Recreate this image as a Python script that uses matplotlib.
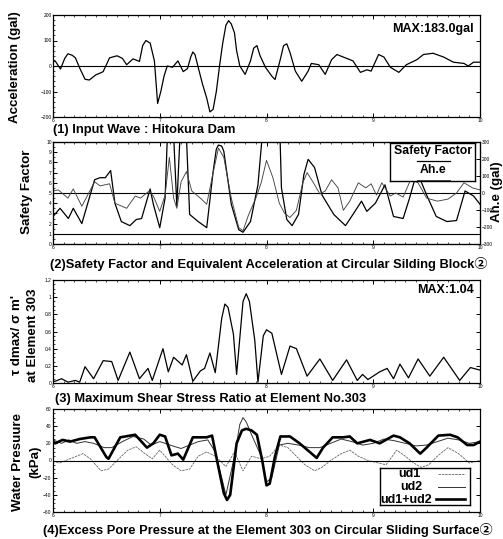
import matplotlib
matplotlib.use("Agg")
import matplotlib.pyplot as plt
from matplotlib.ticker import MultipleLocator
from matplotlib.lines import Line2D

plt.rcParams["font.family"] = ["Liberation Sans", "Noto Sans CJK JP", "DejaVu Sans"]

# (1) input wave, gal
acc_t = [6.00, 6.02, 6.07, 6.11, 6.14, 6.18, 6.21, 6.25, 6.30, 6.34, 6.40, 6.44, 6.47, 6.53,
         6.60, 6.65, 6.69, 6.75, 6.81, 6.84, 6.87, 6.91, 6.95, 6.98, 7.01, 7.04, 7.07, 7.12,
         7.17, 7.22, 7.26, 7.29, 7.31, 7.33, 7.36, 7.40, 7.44, 7.47, 7.50, 7.53, 7.56, 7.59,
         7.62, 7.645, 7.67, 7.70, 7.72, 7.75, 7.80, 7.85, 7.88, 7.91, 7.94, 7.99, 8.05,
         8.08, 8.13, 8.16, 8.19, 8.22, 8.27, 8.33, 8.39, 8.42, 8.49, 8.55, 8.61, 8.66,
         8.72, 8.81, 8.88, 8.94, 8.98, 9.05, 9.10, 9.16, 9.24, 9.31, 9.41, 9.47, 9.56, 9.66,
         9.75, 9.85, 9.89, 9.94, 10.00]
acc_v = [22, 20, -12, 30, 48, 42, 32, -8, -52, -55, -35, -28, -22, 32,
         40, 30, 5, 28, 18, 80, 100, 90, 20, -147, -100, -40, 0, -5,
         20, -22, -10, 35, 55, 45, -5, -70, -126, -180, -170, -100, 0, 90,
         160, 178, 165, 130, 60, 0, -33, 20, 70, 80, 40, -5, -40,
         -53, 27, 80, 87, 53, -20, -60, -20, 10, 5, -33, 25, 45,
         35, 20, -25, -15, -20, 45, 35, -5, -25, 5, 25, 45, 50, 35,
         15, 10, 0, 15, 15]

# (2) safety factor and equivalent acceleration
sf_t = [6.00, 6.066, 6.144, 6.19, 6.27, 6.39, 6.44, 6.49, 6.54, 6.58, 6.64, 6.72, 6.78,
        6.83, 6.91, 6.94, 7.00, 7.05, 7.08, 7.12, 7.16, 7.20, 7.24, 7.28, 7.36, 7.44,
        7.50, 7.53, 7.55, 7.58, 7.60, 7.67, 7.74, 7.78, 7.85, 7.92, 7.98, 8.12, 8.14,
        8.19, 8.24, 8.30, 8.35, 8.39, 8.45, 8.52, 8.63, 8.74, 8.81, 8.89, 8.94, 9.02,
        9.11, 9.19, 9.28, 9.34, 9.41, 9.50, 9.59, 9.69, 9.78, 9.86, 9.94, 10.00]
sf_v = [2.7, 3.5, 2.5, 3.5, 2.0, 6.3, 6.5, 6.5, 7.2, 4.0, 2.2, 1.8, 2.4,
        2.5, 5.4, 3.9, 1.6, 4.5, 13, 13, 3.7, 13, 13, 2.9, 2.2, 1.6,
        7.1, 9.3, 9.7, 9.6, 9.1, 3.9, 1.4, 1.15, 2.2, 5.8, 13, 13, 5.5,
        2.4, 1.8, 2.9, 6.8, 8.3, 7.5, 4.8, 2.9, 1.8, 2.9, 4.2, 3.2, 4.0,
        5.8, 2.7, 2.5, 4.5, 7.1, 4.8, 2.7, 2.2, 2.3, 5.2, 4.7, 3.9]

ahe_t = [6.00, 6.05, 6.14, 6.19, 6.27, 6.39, 6.44, 6.53, 6.58, 6.69, 6.77, 6.82, 6.90,
         6.94, 7.00, 7.05, 7.09, 7.13, 7.16, 7.20, 7.25, 7.30, 7.38, 7.44, 7.50, 7.55,
         7.60, 7.67, 7.74, 7.78, 7.83, 7.90, 7.95, 8.00, 8.06, 8.12, 8.17, 8.22, 8.28,
         8.34, 8.38, 8.44, 8.50, 8.55, 8.61, 8.67, 8.72, 8.78, 8.86, 8.93, 8.98, 9.03,
         9.08, 9.16, 9.21, 9.28, 9.35, 9.42, 9.50, 9.60, 9.70, 9.78, 9.85, 9.93, 10.00]
ahe_v = [12, 18, -30, 24, -78, 66, 42, 54, -60, -90, -18, -30, 12,
         -18, -108, -12, 210, -30, -90, 66, 126, 12, -30, -66, 120, 264,
         210, -30, -204, -222, -132, -30, 60, 192, 90, -60, -120, -144, -102,
         60, 120, 60, -6, 12, 78, 30, -102, -48, 60, 30, 54, -12,
         60, -18, 0, -24, 78, 60, -30, -48, -36, 0, 60, 30, 18]

# (3) max shear stress ratio
tau_t = [6.00, 6.02, 6.08, 6.14, 6.21, 6.25, 6.30, 6.38, 6.47, 6.55, 6.61, 6.72, 6.81,
         6.89, 6.93, 7.03, 7.08, 7.13, 7.21, 7.25, 7.31, 7.38, 7.42, 7.47, 7.52, 7.58,
         7.61, 7.64, 7.69, 7.72, 7.78, 7.81, 7.84, 7.89, 7.92, 7.97, 8.00, 8.05, 8.14,
         8.22, 8.28, 8.38, 8.50, 8.62, 8.75, 8.85, 8.90, 8.95, 9.06, 9.13, 9.19, 9.25,
         9.33, 9.42, 9.53, 9.66, 9.81, 9.91, 10.00]
tau_v = [0.02, 0.02, 0.05, 0.01, 0.03, 0.01, 0.19, 0.05, 0.26, 0.25, 0.03, 0.36, 0.05,
         0.17, 0.03, 0.40, 0.13, 0.30, 0.21, 0.33, 0.02, 0.14, 0.17, 0.35, 0.12, 0.75,
         0.92, 0.88, 0.57, 0.10, 0.95, 1.04, 0.95, 0.50, 0.01, 0.55, 0.62, 0.58, 0.10,
         0.43, 0.40, 0.08, 0.28, 0.03, 0.27, 0.03, 0.10, 0.04, 0.13, 0.17, 0.05, 0.22,
         0.06, 0.28, 0.08, 0.30, 0.03, 0.18, 0.15]

# (4) excess pore pressure, kPa
ud1_t = [6.00, 6.06, 6.12, 6.22, 6.28, 6.35, 6.45, 6.52, 6.60, 6.70, 6.78, 6.86, 6.93,
         7.00, 7.05, 7.12, 7.20, 7.28, 7.36, 7.44, 7.52, 7.62, 7.70, 7.78, 7.86, 7.95,
         8.03, 8.12, 8.20, 8.28, 8.36, 8.45, 8.52, 8.60, 8.70, 8.78, 8.86, 8.95, 9.05,
         9.12, 9.22, 9.30, 9.38, 9.45, 9.52, 9.60, 9.70, 9.80, 9.90, 10.00]
ud1_v = [-1, -3, 0, 5, 8, 2, -12, -10, 0, 12, 16, 8, 2,
         12, 5, -5, -12, -10, 5, 10, 5, -7, 10, -12, 5, 2,
         5, 18, 15, 5, -5, -12, -8, 0, 8, 12, 5, 0, -3,
         -5, 12, 5, -3, -8, -5, 5, 15, 8, -3, 0]

ud2_t = [6.00, 6.08, 6.15, 6.22, 6.30, 6.38, 6.48, 6.55, 6.65, 6.75, 6.85, 6.92, 7.00,
         7.05, 7.12, 7.20, 7.28, 7.36, 7.45, 7.52, 7.62, 7.70, 7.75, 7.78, 7.81, 7.86,
         7.95, 8.00, 8.05, 8.12, 8.20, 8.30, 8.40, 8.50, 8.60, 8.70, 8.80, 8.90, 9.00,
         9.10, 9.20, 9.30, 9.40, 9.50, 9.60, 9.70, 9.80, 9.90, 10.00]
ud2_v = [24, 20, 24, 20, 22, 20, 15, 15, 22, 28, 25, 18, 22,
         20, 17, 14, 18, 22, 24, 10, -40, 5, 42, 50, 45, 30,
         5, -25, -20, 18, 20, 18, 15, 15, 20, 25, 22, 18, 20,
         25, 23, 20, 17, 18, 22, 26, 24, 20, 22]

uds_t = [6.00, 6.02, 6.09, 6.16, 6.25, 6.35, 6.39, 6.50, 6.52, 6.63, 6.77, 6.88, 6.94,
         7.00, 7.05, 7.11, 7.17, 7.22, 7.31, 7.44, 7.49, 7.54, 7.60, 7.63, 7.66, 7.72,
         7.77, 7.81, 7.86, 7.91, 7.96, 8.00, 8.03, 8.08, 8.13, 8.22, 8.31, 8.47, 8.53,
         8.62, 8.72, 8.78, 8.85, 8.97, 9.06, 9.19, 9.25, 9.34, 9.44, 9.50, 9.61, 9.72,
         9.79, 9.88, 9.94, 10.00]
uds_v = [22, 20, 24, 22, 25, 27, 27, 4, 2, 27, 30, 15, 20,
         30, 28, 6, 8, 1, 27, 27, 29, -2, -38, -46, -40, 20,
         35, 37, 35, 30, 0, -29, -27, 5, 28, 28, 20, 3, 15,
         27, 27, 28, 20, 24, 20, 29, 27, 20, 8, 15, 29, 30,
         27, 18, 18, 22]

fig = plt.figure(figsize=(5.03, 5.39), dpi=100)
W, H = 503.0, 539.0


def axes_px(x0, y0, x1, y1):
    return fig.add_axes([x0 / W, 1 - y1 / H, (x1 - x0) / W, (y1 - y0) / H])


def style(ax, major, minor):
    ax.set_xlim(6, 10)
    ax.xaxis.set_major_locator(MultipleLocator(1))
    ax.xaxis.set_minor_locator(MultipleLocator(0.1))
    ax.yaxis.set_major_locator(MultipleLocator(major))
    ax.yaxis.set_minor_locator(MultipleLocator(minor))
    ax.tick_params(which="both", direction="in", top=True, labelsize=3.5, pad=1)
    ax.tick_params(which="major", length=3, width=0.7)
    ax.tick_params(which="minor", length=1.5, width=0.5)
    for s in ax.spines.values():
        s.set_linewidth(0.9)


def ttext(x, y, s, **kw):
    fig.text(x / W, 1 - y / H, s, fontweight="bold", **kw)


TSIZE = 9.3
YSIZE = 9.6

# panel 1
ax1 = axes_px(53, 15, 480, 117)
ax1.plot(acc_t, acc_v, color="black", lw=0.9)
ax1.axhline(0, color="black", lw=0.8)
ax1.set_ylim(-200, 200)
style(ax1, 100, 20)
ax1.tick_params(right=True)
ax1.text(0.985, 0.86, "MAX:183.0gal", transform=ax1.transAxes, ha="right", va="center",
         fontsize=9, fontweight="bold")
ttext(53, 130, "(1) Input Wave : Hitokura Dam", fontsize=TSIZE, va="center")
ttext(15, 67, "Acceleration (gal)", fontsize=YSIZE, rotation=90, ha="center", va="center")

# panel 2
ax2 = axes_px(53, 142, 480, 244)
ax2.plot(sf_t, sf_v, color="black", lw=0.9)
ax2.axhline(5, color="black", lw=0.8)
ax2.axhline(1, color="black", lw=0.8)
ax2.set_ylim(0, 10)
style(ax2, 1, 0.5)
ax2b = ax2.twinx()
ax2b.plot(ahe_t, ahe_v, color="#444444", lw=0.65)
ax2b.set_ylim(-300, 300)
ax2b.yaxis.set_major_locator(MultipleLocator(100))
ax2b.tick_params(direction="in", labelsize=3.5, pad=1, length=3, width=0.7)
ax2.tick_params(right=False)
leg_ax = axes_px(390, 143, 475, 181)
leg_ax.set_xlim(0, 1)
leg_ax.set_ylim(1, 0)
leg_ax.set_xticks([])
leg_ax.set_yticks([])
leg_ax.patch.set_facecolor("white")
for s in leg_ax.spines.values():
    s.set_linewidth(1.0)
leg_ax.text(0.5, 0.22, "Safety Factor", ha="center", va="center", fontsize=8.8, fontweight="bold")
leg_ax.add_line(Line2D([0.32, 0.7], [0.47, 0.47], color="black", lw=0.9))
leg_ax.text(0.5, 0.72, "Ah.e", ha="center", va="center", fontsize=8.8, fontweight="bold")
leg_ax.add_line(Line2D([0.32, 0.7], [0.97, 0.97], color="#444444", lw=0.65))
ttext(50, 264, "(2)Safety Factor and Equivalent Acceleration at Circular Silding Block②",
      fontsize=TSIZE, va="center")
ttext(27, 192, "Safety Factor", fontsize=YSIZE, rotation=90, ha="center", va="center")
ttext(497, 192, "Ah.e (gal)", fontsize=YSIZE, rotation=90, ha="center", va="center")

# panel 3
ax3 = axes_px(53, 280, 480, 383)
ax3.plot(tau_t, tau_v, color="black", lw=0.9)
ax3.set_ylim(0, 1.2)
style(ax3, 0.2, 0.05)
ax3.tick_params(right=True)
ax3.set_yticklabels(["", "0", "0.2", "0.4", "0.6", "0.8", "1", "1.2"])
ax3.text(0.985, 0.9, "MAX:1.04", transform=ax3.transAxes, ha="right", va="center",
         fontsize=9, fontweight="bold")
ttext(55, 399, "(3) Maximum Shear Stress Ratio at Element No.303", fontsize=TSIZE, va="center")
ttext(17, 335, "τ dmax/ σ m'", fontsize=YSIZE, rotation=90, ha="center", va="center")
ttext(33, 335, "at Element 303", fontsize=YSIZE, rotation=90, ha="center", va="center")

# panel 4
ax4 = axes_px(53, 409, 480, 512)
ax4.plot(ud1_t, ud1_v, color="#666666", lw=0.6, ls=(0, (3, 1)))
ax4.plot(ud2_t, ud2_v, color="#333333", lw=0.7)
ax4.plot(uds_t, uds_v, color="black", lw=1.9)
ax4.axhline(0, color="black", lw=0.8)
ax4.set_ylim(-60, 60)
style(ax4, 20, 5)
ax4.tick_params(right=True)
leg4 = axes_px(380, 468, 470, 505)
leg4.set_xlim(0, 1)
leg4.set_ylim(1, 0)
leg4.set_xticks([])
leg4.set_yticks([])
leg4.patch.set_facecolor("white")
for s in leg4.spines.values():
    s.set_linewidth(1.0)
leg4.text(0.33, 0.15, "ud1", ha="center", va="center", fontsize=9, fontweight="bold")
leg4.text(0.35, 0.52, "ud2", ha="center", va="center", fontsize=9, fontweight="bold")
leg4.text(0.29, 0.86, "ud1+ud2", ha="center", va="center", fontsize=9, fontweight="bold")
leg4.add_line(Line2D([0.64, 0.95], [0.15, 0.15], color="#666666", lw=0.6, ls=(0, (3, 1))))
leg4.add_line(Line2D([0.64, 0.95], [0.5, 0.5], color="#333333", lw=0.7))
leg4.add_line(Line2D([0.62, 0.95], [0.85, 0.85], color="black", lw=1.9))
ttext(43, 530, "(4)Excess Pore Pressure at the Element 303 on Circular Sliding Surface②",
      fontsize=TSIZE, va="center")
ttext(18, 462, "Water Presuure", fontsize=YSIZE, rotation=90, ha="center", va="center")
ttext(35, 462, "(kPa)", fontsize=YSIZE, rotation=90, ha="center", va="center")

fig.savefig("out.png", dpi=100)
